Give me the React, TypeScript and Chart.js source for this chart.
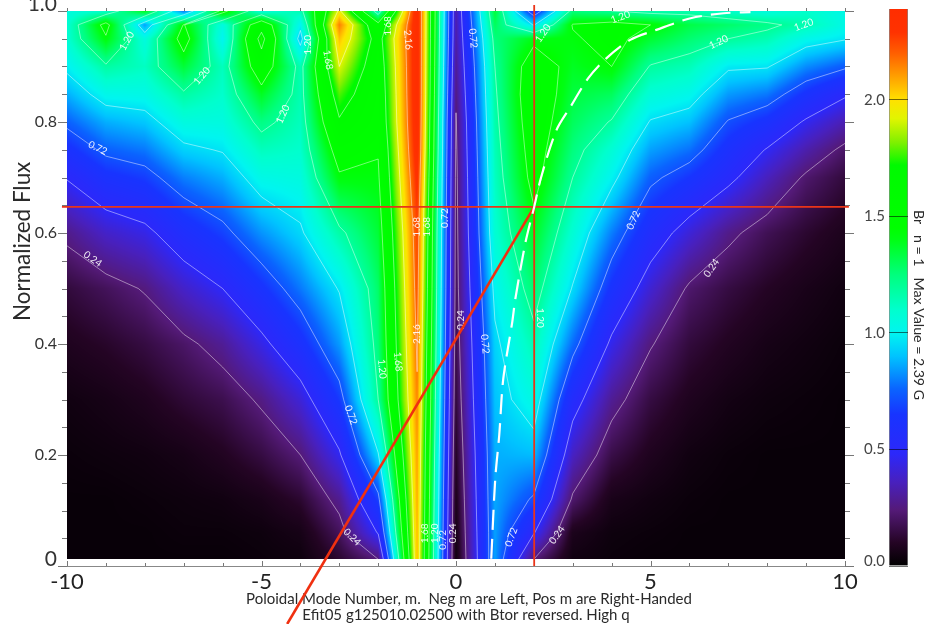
import React, { useEffect, useRef } from "react";
import { Chart, registerables } from "chart.js";

Chart.register(...registerables);

const fluxRows = [0.012, 0.06, 0.12, 0.2, 0.3, 0.4, 0.5, 0.6, 0.7, 0.75, 0.8, 0.85, 0.9, 0.95, 0.975, 1];
const modes = [-10, -9, -8, -7, -6, -5, -4, -3, -2, -1, 0, 1, 2, 3, 4, 5, 6, 7, 8, 9, 10];

const modeM10 = [0, 0, 0, 0.01, 0.03, 0.08, 0.14, 0.27, 0.49, 0.62, 0.75, 0.87, 0.99, 1.08, 1.08, 1.05];
const modeM9 = [0, 0, 0, 0.02, 0.05, 0.11, 0.19, 0.38, 0.62, 0.75, 0.87, 1.02, 1.18, 1.42, 1.5, 1.1];
const modeM8 = [0, 0, 0.01, 0.03, 0.08, 0.15, 0.25, 0.44, 0.67, 0.79, 0.91, 1.03, 1.12, 1.05, 0.85, 1.4];
const modeM7 = [0, 0.01, 0.02, 0.05, 0.13, 0.21, 0.38, 0.58, 0.8, 0.93, 1.05, 1.18, 1.35, 1.52, 1.45, 0.78];
const modeM6 = [0, 0.01, 0.03, 0.09, 0.17, 0.29, 0.48, 0.68, 0.87, 0.97, 1.05, 1.1, 1.13, 1.0, 1.05, 1.5];
const modeM5 = [0.01, 0.02, 0.06, 0.15, 0.26, 0.44, 0.63, 0.83, 1.03, 1.13, 1.24, 1.38, 1.56, 1.75, 1.6, 1.05];
const modeM4 = [0.02, 0.05, 0.12, 0.24, 0.41, 0.61, 0.79, 0.94, 1.05, 1.1, 1.13, 1.15, 1.15, 0.9, 1.0, 1.15];
const modeM3 = [0.12, 0.19, 0.28, 0.46, 0.66, 0.84, 0.97, 1.17, 1.42, 1.52, 1.66, 1.78, 1.92, 2.05, 2.15, 1.95];
const modeM2 = [0.24, 0.49, 0.68, 0.95, 1.2, 1.25, 1.28, 1.35, 1.42, 1.45, 1.5, 1.52, 1.55, 1.6, 1.5, 1.1];
const modeM1 = [2.05, 2.06, 2.08, 2.1, 2.14, 2.18, 2.22, 2.25, 2.32, 2.36, 2.38, 2.39, 2.39, 2.39, 2.39, 2.39];
const mode0 = [0.03, 0.05, 0.07, 0.1, 0.14, 0.17, 0.19, 0.2, 0.21, 0.22, 0.23, 0.26, 0.29, 0.32, 0.33, 0.34];
const modeP1 = [0.85, 0.85, 0.86, 0.87, 0.9, 0.93, 1.0, 1.08, 1.12, 1.14, 1.16, 1.18, 1.2, 1.25, 1.3, 1.35];
const modeP2 = [0.24, 0.49, 0.7, 0.89, 1.04, 1.15, 1.27, 1.38, 1.5, 1.53, 1.56, 1.58, 1.55, 1.4, 0.95, 0.6];
const modeP3 = [0.03, 0.07, 0.22, 0.37, 0.55, 0.77, 0.95, 1.08, 1.2, 1.25, 1.3, 1.34, 1.38, 1.42, 1.45, 1.25];
const modeP4 = [0.01, 0.02, 0.06, 0.16, 0.29, 0.45, 0.63, 0.8, 1.0, 1.08, 1.19, 1.3, 1.44, 1.5, 1.5, 1.2];
const modeP5 = [0, 0.01, 0.03, 0.08, 0.15, 0.25, 0.4, 0.57, 0.75, 0.85, 0.95, 1.07, 1.19, 1.36, 1.44, 1.15];
const modeP6 = [0, 0, 0.01, 0.03, 0.08, 0.14, 0.22, 0.41, 0.65, 0.78, 0.9, 1.02, 1.14, 1.27, 1.33, 1.15];
const modeP7 = [0, 0, 0, 0.01, 0.04, 0.09, 0.15, 0.27, 0.52, 0.61, 0.71, 0.84, 0.98, 1.2, 1.28, 1.1];
const modeP8 = [0, 0, 0, 0, 0.02, 0.05, 0.1, 0.18, 0.36, 0.47, 0.62, 0.79, 0.97, 1.15, 1.23, 1.05];
const modeP9 = [0, 0, 0, 0, 0.01, 0.03, 0.06, 0.12, 0.22, 0.33, 0.46, 0.63, 0.82, 1.02, 1.15, 1.1];
const modeP10 = [0, 0, 0, 0, 0, 0.01, 0.03, 0.07, 0.14, 0.21, 0.34, 0.5, 0.74, 0.97, 1.03, 1.03];
const columns = [modeM10, modeM9, modeM8, modeM7, modeM6, modeM5, modeM4, modeM3, modeM2, modeM1, mode0,
  modeP1, modeP2, modeP3, modeP4, modeP5, modeP6, modeP7, modeP8, modeP9, modeP10];

const contourLevels = [0.24, 0.48, 0.72, 0.96, 1.2, 1.44, 1.68, 1.92, 2.16];

// text, m, flux, rotation in degrees
const contourLabels: [string, number, number, number][] = [
  ["1.20", -8.46, 0.946, -60], ["1.20", -6.53, 0.883, -50], ["1.20", -4.45, 0.814, -65], ["1.20", -3.8, 0.939, -90],
  ["1.68", -3.29, 0.912, 80], ["1.68", -1.75, 0.973, -90], ["2.16", -1.23, 0.948, 85], ["0.72", -9.21, 0.753, 25],
  ["0.24", -9.34, 0.553, 35], ["1.68", -1.0, 0.611, -90], ["1.68", -0.74, 0.611, -90], ["0.72", -0.28, 0.627, -90],
  ["0.24", 0.13, 0.443, -90], ["0.72", -2.7, 0.272, 70], ["1.20", -1.9, 0.355, 85], ["1.68", -1.49, 0.368, 85],
  ["2.16", -1.0, 0.418, -90], ["0.24", -2.67, 0.052, 45], ["1.68", -0.79, 0.059, -90], ["1.20", -0.54, 0.059, -90],
  ["0.72", -0.33, 0.047, -90], ["0.24", -0.07, 0.059, -90], ["0.72", 0.44, 0.951, 85], ["1.20", 2.24, 0.96, -55],
  ["1.20", 4.23, 0.989, -20], ["1.20", 6.75, 0.944, -25], ["1.20", 8.94, 0.975, -20], ["0.72", 4.56, 0.623, -65],
  ["0.24", 6.57, 0.537, -55], ["0.72", 0.75, 0.4, 85], ["0.72", 1.42, 0.052, -70], ["0.24", 2.6, 0.056, -55],
  ["1.20", 2.17, 0.447, 90],
];

const dashedQM = [0.906, 1.009, 1.112, 1.215, 1.447, 1.525, 1.783, 2.01, 2.19, 2.58, 2.94, 3.4, 3.87, 4.48, 5.15, 6.03, 6.88, 7.57];
const dashedQFlux = [0.013, 0.157, 0.236, 0.337, 0.44, 0.481, 0.582, 0.647, 0.701, 0.785, 0.827, 0.879, 0.915, 0.948, 0.966, 0.987, 0.996, 0.998];

const crossHorizontal = [{ x: -10.13, y: 0.647 }, { x: 10.1, y: 0.647 }];
const crossVertical = [{ x: 2.01, y: 0 }, { x: 2.01, y: 1.011 }];
const crossDiagonal = [{ x: -4.34, y: -0.1045 }, { x: 2.01, y: 0.647 }];

const yAxisTitle = "Normalized Flux";
const captionLines = [
  "Poloidal Mode Number, m.  Neg m are Left, Pos m are Right-Handed",
  "Efit05 g125010.02500 with Btor reversed. High q",
];
const colorbarTitle = "Br   n = 1   Max Value = 2.39 G";
const maxValue = 2.39;

const colorStops: [number, number, number, number][] = [
  [0, 8, 0, 8], [0.1, 36, 4, 36], [0.24, 84, 26, 120], [0.36, 72, 32, 190], [0.48, 44, 40, 250],
  [0.65, 24, 52, 255], [0.76, 10, 100, 255], [0.9, 0, 195, 255], [1.0, 0, 245, 240], [1.1, 0, 255, 205],
  [1.25, 0, 255, 125], [1.4, 0, 255, 20], [1.45, 0, 255, 0], [1.72, 0, 250, 0], [1.82, 130, 240, 0],
  [1.92, 225, 245, 0], [2.0, 255, 225, 0], [2.1, 255, 160, 0], [2.2, 255, 95, 0], [2.29, 255, 50, 0], [2.39, 255, 45, 0],
];

function colorAt(v: number): [number, number, number] {
  if (v <= colorStops[0][0]) return [colorStops[0][1], colorStops[0][2], colorStops[0][3]];
  for (let i = 1; i < colorStops.length; i++) {
    const a = colorStops[i - 1], b = colorStops[i];
    if (v <= b[0]) {
      const t = (v - a[0]) / (b[0] - a[0]);
      return [a[1] + t * (b[1] - a[1]), a[2] + t * (b[2] - a[2]), a[3] + t * (b[3] - a[3])];
    }
  }
  const l = colorStops[colorStops.length - 1];
  return [l[1], l[2], l[3]];
}

function sample(m: number, f: number) {
  const i = Math.max(0, Math.min(modes.length - 2, Math.floor(m + 10)));
  const tx = Math.max(0, Math.min(1, m - modes[i]));
  let j = 0;
  while (j < fluxRows.length - 2 && f > fluxRows[j + 1]) j++;
  const ty = Math.max(0, Math.min(1, (f - fluxRows[j]) / (fluxRows[j + 1] - fluxRows[j])));
  const a = columns[i][j] * (1 - ty) + columns[i][j + 1] * ty;
  const b = columns[i + 1][j] * (1 - ty) + columns[i + 1][j + 1] * ty;
  return a * (1 - tx) + b * tx;
}

const noScalePadding = (s: any) => {
  s.paddingTop = 0; s.paddingBottom = 0; s.paddingLeft = 0; s.paddingRight = 0;
};

const heatmapPlugin = {
  id: "heatmap",
  beforeDatasetsDraw(chart: any) {
    const { ctx, scales } = chart;
    const { x, y } = scales;
    const L = Math.round(x.getPixelForValue(-10));
    const R = Math.round(x.getPixelForValue(10));
    const T = Math.round(y.getPixelForValue(1));
    const B = Math.round(y.getPixelForValue(fluxRows[0]));
    const img = ctx.createImageData(R - L, B - T);
    for (let py = 0; py < B - T; py++) {
      const f = y.getValueForPixel(T + py + 0.5);
      for (let px = 0; px < R - L; px++) {
        const c = colorAt(sample(x.getValueForPixel(L + px + 0.5), f));
        const o = (py * (R - L) + px) * 4;
        img.data[o] = c[0]; img.data[o + 1] = c[1]; img.data[o + 2] = c[2]; img.data[o + 3] = 255;
      }
    }
    ctx.putImageData(img, L, T);

    ctx.save();
    ctx.strokeStyle = "rgba(255,255,255,0.5)";
    ctx.lineWidth = 0.9;
    ctx.beginPath();
    for (const lv of contourLevels) {
      for (let i = 0; i < modes.length - 1; i++) {
        for (let j = 0; j < fluxRows.length - 1; j++) {
          const c = [
            [modes[i], fluxRows[j], columns[i][j]],
            [modes[i + 1], fluxRows[j], columns[i + 1][j]],
            [modes[i + 1], fluxRows[j + 1], columns[i + 1][j + 1]],
            [modes[i], fluxRows[j + 1], columns[i][j + 1]],
          ];
          const pts: [number, number][] = [];
          for (let k = 0; k < 4; k++) {
            const p = c[k], q = c[(k + 1) % 4];
            if ((p[2] < lv) !== (q[2] < lv)) {
              const t = (lv - p[2]) / (q[2] - p[2]);
              pts.push([x.getPixelForValue(p[0] + t * (q[0] - p[0])), y.getPixelForValue(p[1] + t * (q[1] - p[1]))]);
            }
          }
          for (let k = 0; k + 1 < pts.length; k += 2) {
            ctx.moveTo(pts[k][0], pts[k][1]);
            ctx.lineTo(pts[k + 1][0], pts[k + 1][1]);
          }
        }
      }
    }
    ctx.stroke();

    ctx.fillStyle = "rgba(255,255,255,0.9)";
    ctx.font = "10px Lato";
    ctx.textAlign = "center";
    ctx.textBaseline = "middle";
    for (const [text, m, f, rot] of contourLabels) {
      ctx.save();
      ctx.translate(x.getPixelForValue(m), y.getPixelForValue(f));
      ctx.rotate((rot * Math.PI) / 180);
      ctx.fillText(text, 0, 0);
      ctx.restore();
    }

    // tick marks on all four sides
    ctx.strokeStyle = "#777";
    ctx.lineWidth = 1;
    ctx.beginPath();
    const a = chart.chartArea;
    for (const t of y.ticks) {
      const py = Math.round(y.getPixelForValue(t.value)) + 0.5;
      const major = Math.round(t.value * 100) % 20 === 0;
      const len = major ? 9 : 5;
      ctx.moveTo(a.left - len, py); ctx.lineTo(a.left, py);
      ctx.moveTo(a.right, py); ctx.lineTo(a.right + len, py);
    }
    for (const t of x.ticks) {
      const px = Math.round(x.getPixelForValue(t.value)) + 0.5;
      const major = Math.round(t.value) % 5 === 0;
      ctx.moveTo(px, a.bottom); ctx.lineTo(px, a.bottom - (major ? 5 : 3));
      ctx.moveTo(px, a.top - 3); ctx.lineTo(px, a.top);
    }
    ctx.stroke();

    // caption under the axis, and the flux axis title
    ctx.fillStyle = "#2a2a2a";
    ctx.font = "15px Lato";
    ctx.textAlign = "center";
    ctx.fillText(captionLines[0], (a.left + a.right) / 2 + 13, a.bottom + 33);
    ctx.fillText(captionLines[1], (a.left + a.right) / 2 + 10, a.bottom + 49);
    ctx.save();
    ctx.translate(23, y.getPixelForValue(0.585));
    ctx.rotate(-Math.PI / 2);
    ctx.font = "22.4px Lato";
    ctx.fillText(yAxisTitle, 0, 0);
    ctx.restore();
    ctx.restore();
  },
};

const colorbarTitlePlugin = {
  id: "colorbarTitle",
  afterDraw(chart: any) {
    const { ctx, scales } = chart;
    ctx.save();
    ctx.translate(919, scales.y.getPixelForValue(1.12));
    ctx.rotate(Math.PI / 2);
    ctx.fillStyle = "#2a2a2a";
    ctx.font = "14.2px Lato";
    ctx.textAlign = "center";
    ctx.textBaseline = "middle";
    ctx.fillText(colorbarTitle, 0, 0);
    ctx.restore();
  },
};

export default function App() {
  const mainRef = useRef<HTMLCanvasElement>(null);
  const barRef = useRef<HTMLCanvasElement>(null);

  useEffect(() => {
    const main = new Chart(mainRef.current as any, {
      type: "scatter",
      data: {
        datasets: [
          {
            data: dashedQM.map((m, i) => ({ x: m, y: dashedQFlux[i] })),
            showLine: true, borderColor: "#fff", borderWidth: 2.2, borderDash: [20, 9], pointRadius: 0, tension: 0.3, clip: false,
          },
          { data: crossHorizontal, showLine: true, borderColor: "#ea3418", borderWidth: 1.8, pointRadius: 0, clip: false },
          { data: crossVertical, showLine: true, borderColor: "#ea3418", borderWidth: 1.8, pointRadius: 0, clip: false },
          { data: crossDiagonal, showLine: true, borderColor: "#f03010", borderWidth: 2.6, pointRadius: 0, clip: false },
        ],
      } as any,
      options: {
        animation: false,
        responsive: false,
        layout: { padding: { top: 11, right: 81, left: 0, bottom: 0 } },
        plugins: { legend: { display: false }, tooltip: { enabled: false } },
        scales: {
          x: {
            type: "linear", min: -10, max: 10,
            afterFit: (s: any) => { s.height = 58; noScalePadding(s); },
            grid: { drawOnChartArea: false, drawTicks: false },
            border: { display: true, color: "#888" },
            ticks: {
              stepSize: 1, autoSkip: false, maxRotation: 0, padding: 3, color: "#222",
              font: { family: "Lato", size: 22 },
              callback: (v: any) => (Math.round(v) % 5 === 0 ? String(Math.round(v)) : ""),
            },
          },
          y: {
            type: "linear", min: 0, max: 1,
            afterFit: (s: any) => { s.width = 67; noScalePadding(s); },
            grid: { drawOnChartArea: false, drawTicks: false },
            border: { display: false },
            ticks: {
              stepSize: 0.05, autoSkip: false, padding: 10, color: "#333",
              font: (c: any) => {
                const tv = c.tick ? c.tick.value : 0.5;
                const v = Math.round(tv * 100);
                return v === 0 || v === 100
                  ? { family: "Lato", size: 21, lineHeight: 0.6 }
                  : { family: "Lato", size: 16 };
              },
              callback: (v: any) => {
                const n = Math.round(v * 100);
                if (n === 0) return ["0", ""];
                if (n === 100) return ["1.0", ""];
                return n % 20 === 0 ? (n / 100).toFixed(1) : "";
              },
            },
          },
        },
      } as any,
      plugins: [heatmapPlugin],
    });

    const bar = new Chart(barRef.current as any, {
      type: "bar",
      data: {
        labels: ["Br"],
        datasets: [
          {
            data: [[0, maxValue]],
            barPercentage: 1,
            categoryPercentage: 1,
            borderColor: "#888",
            borderWidth: { left: 1, right: 1, top: 0, bottom: 0 },
            borderSkipped: false,
            backgroundColor: (c: any) => {
              const ys = c.chart.scales.y;
              if (!ys) return "#000";
              const y0 = ys.getPixelForValue(0);
              const y1 = ys.getPixelForValue(maxValue);
              if (!Number.isFinite(y0) || !Number.isFinite(y1)) return "#000";
              const g = c.chart.ctx.createLinearGradient(0, y0, 0, y1);
              g.addColorStop(0, "rgb(0,0,0)");
              for (const s of colorStops.slice(1)) {
                g.addColorStop(s[0] / maxValue, `rgb(${s[1]},${s[2]},${s[3]})`);
              }
              return g;
            },
          },
        ],
      } as any,
      options: {
        animation: false,
        responsive: false,
        layout: { padding: { top: 9, right: 0, left: 0, bottom: 58 } },
        plugins: { legend: { display: false }, tooltip: { enabled: false } },
        scales: {
          x: { type: "category", display: false },
          y: {
            type: "linear", position: "left", min: 0, max: maxValue,
            afterFit: (s: any) => { s.width = 889; noScalePadding(s); },
            border: { display: false },
            grid: { z: 1, color: "rgba(0,0,0,0.55)", drawTicks: false },
            ticks: {
              stepSize: 0.5, includeBounds: false, padding: 4, color: "#444",
              font: (c: any) => (c.tick && c.tick.value === 0 ? { family: "Lato", size: 15, lineHeight: 0.6 } : { family: "Lato", size: 15 }),
              callback: (v: any) => (v === 0 ? ["0.0", ""] : Number(v).toFixed(1)),
            },
          },
          y2: {
            type: "linear", position: "right", min: 0, max: maxValue,
            afterFit: (s: any) => { s.width = 18; noScalePadding(s); },
            border: { display: false },
            grid: { display: false },
            ticks: { display: false },
          },
        },
      } as any,
      plugins: [colorbarTitlePlugin],
    });

    return () => {
      main.destroy();
      bar.destroy();
    };
  }, []);

  const canvasStyle: React.CSSProperties = { position: "absolute", left: 0, top: 0, display: "block" };
  return (
    <div style={{ position: "fixed", left: 0, top: 0, width: 926, height: 624, background: "#fff", overflow: "hidden", filter: "blur(0.45px)" }}>
      <canvas ref={mainRef} width={926} height={624} style={canvasStyle} />
      <canvas ref={barRef} width={926} height={624} style={canvasStyle} />
    </div>
  );
}
